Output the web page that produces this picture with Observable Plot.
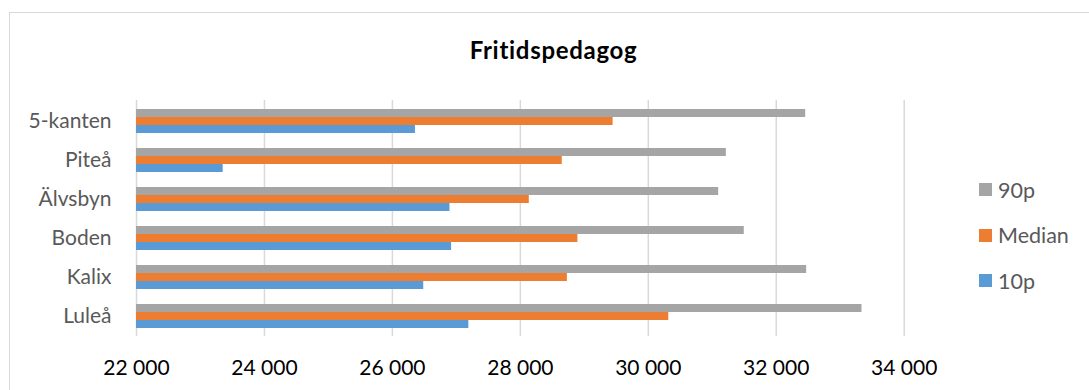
<!DOCTYPE html>
<html>
<head>
<meta charset="utf-8">
<script src="https://cdn.jsdelivr.net/npm/d3@7"></script>
<script src="https://cdn.jsdelivr.net/npm/@observablehq/plot@0.6"></script>
<style>
  html, body { margin: 0; padding: 0; background: #fff; }
  #chart { position: relative; width: 1089px; height: 390px; overflow: hidden; background: #fff; font-family: Lato, "Liberation Sans", sans-serif; }
  #frame { position: absolute; left: 9px; top: 12px; width: 1200px; height: 500px; border: 1.5px solid #d9d9d9; box-sizing: border-box; }
  #title { position: absolute; left: 0; top: 38px; width: 1107px; text-align: center; font-weight: bold; font-size: 24px; letter-spacing: 0.7px; line-height: 1; color: #000; }
  #plot { position: absolute; left: 0; top: 0; }
  .legend-row { position: absolute; left: 979px; height: 24px; display: flex; align-items: center; font-size: 21.5px; color: #595959; }
  .legend-row .sw { width: 13px; height: 13px; margin-right: 6px; }
</style>
</head>
<body>
<div id="chart">
  <div id="frame"></div>
  <div id="title">Fritidspedagog</div>
  <div id="plot"></div>
</div>
<script>
// Monthly salaries for after-school teachers, per municipality
const categories = ["5-kanten", "Piteå", "Älvsbyn", "Boden", "Kalix", "Luleå"];
const p90 = [32460, 31220, 31100, 31500, 32475, 33340];
const median = [29450, 28655, 28140, 28900, 28735, 30320];
const p10 = [26360, 23355, 26900, 26925, 26490, 27195];

const seriesNames = ["90p", "Median", "10p"];
const seriesValues = [p90, median, p10];
const seriesColors = ["#a5a5a5", "#ed7d31", "#5b9bd5"];

const xDomain = [22000, 34000];
const xTicks = [22000, 24000, 26000, 28000, 30000, 32000, 34000];

// Long-format rows: one per municipality and series
const rows = seriesNames.flatMap((s, i) =>
  categories.map((c, j) => ({ name: c, series: s, value: seriesValues[i][j] }))
);

const fmt = d => d3.format(",")(d).replace(/,/g, " ");
const barThickness = 8;

const bars = seriesNames.map((s, i) =>
  Plot.barX(rows.filter(r => r.series === s), {
    x1: xDomain[0],
    x2: "value",
    y: "name",
    fill: seriesColors[i],
    insetTop: i * barThickness,
    insetBottom: (seriesNames.length - 1 - i) * barThickness
  })
);

const plot = Plot.plot({
  width: 1089,
  height: 390,
  marginLeft: 136,
  marginRight: 185.3,
  marginTop: 100,
  marginBottom: 54,
  style: { fontFamily: "Lato, 'Liberation Sans', sans-serif", fontSize: "21px", background: "transparent" },
  x: { domain: xDomain, label: null },
  y: { domain: categories, paddingInner: 0.39, paddingOuter: 0.195, label: null },
  marks: [
    Plot.gridX({ ticks: xTicks, stroke: "#d9d9d9", strokeOpacity: 1, strokeWidth: 1.5 }),
    ...bars,
    Plot.axisX({ ticks: xTicks, tickFormat: fmt, tickSize: 0, tickPadding: 24, fontSize: 21, fill: "#000", label: null }),
    Plot.axisY({ tickSize: 0, tickPadding: 25, fontSize: 21, fill: "#595959", label: null })
  ]
});
document.getElementById("plot").appendChild(plot);

// Legend on the right
const legendCenters = [189.5, 235, 280.5];
const chart = document.getElementById("chart");
seriesNames.forEach((s, i) => {
  const row = document.createElement("div");
  row.className = "legend-row";
  row.style.top = (legendCenters[i] - 12) + "px";
  const sw = document.createElement("div");
  sw.className = "sw";
  sw.style.background = seriesColors[i];
  const label = document.createElement("span");
  label.textContent = s;
  row.appendChild(sw);
  row.appendChild(label);
  chart.appendChild(row);
});
</script>
</body>
</html>
